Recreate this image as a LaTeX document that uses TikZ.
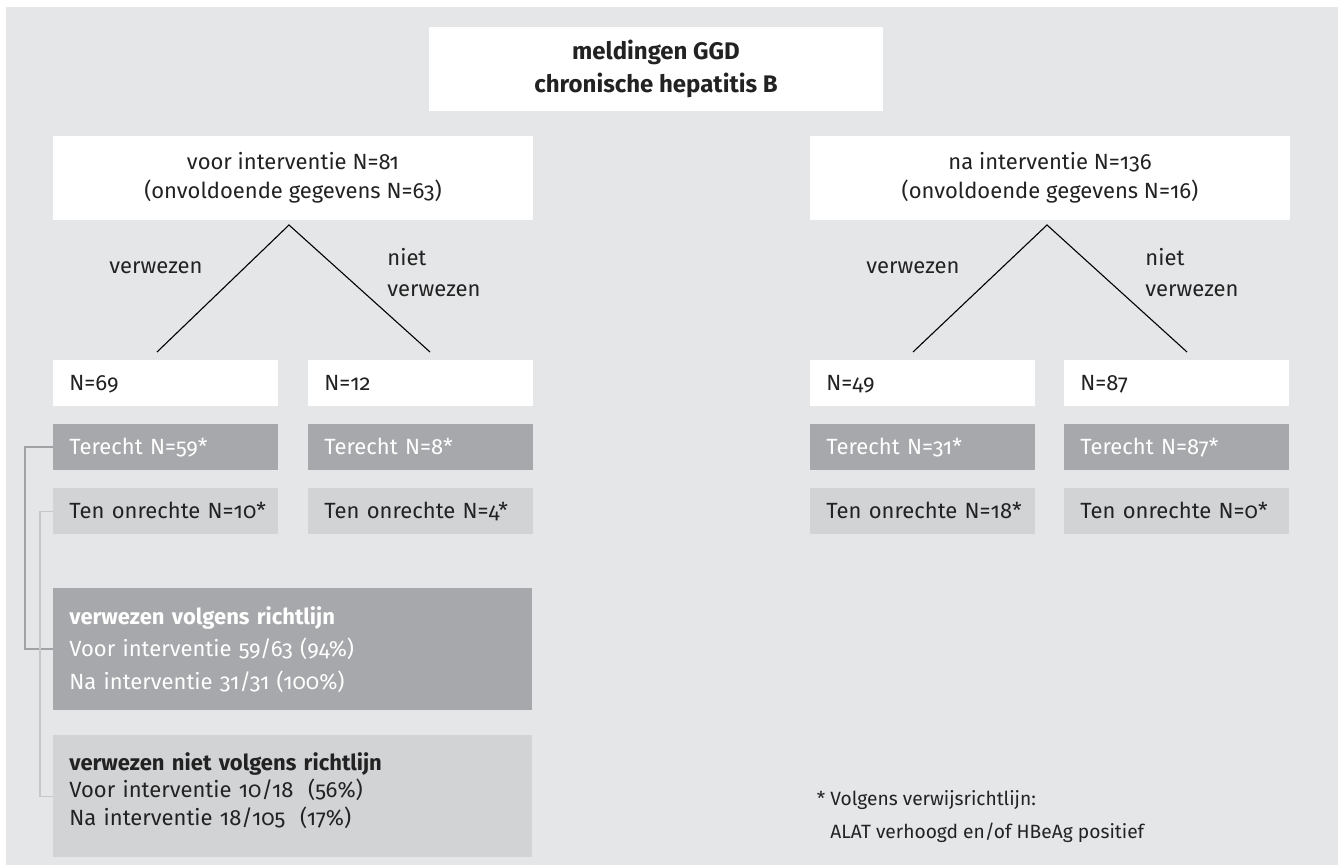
\documentclass[tikz,border=0pt]{standalone}
\usepackage{fontspec}
\setmainfont{Fira Sans}[Numbers=OldStyle]
\definecolor{bg}{HTML}{E5E6E8}
\definecolor{dgray}{HTML}{A7A8AB}
\definecolor{lgray}{HTML}{D2D3D5}
\definecolor{txt}{HTML}{222222}
\definecolor{connd}{HTML}{A2A3A6}
\definecolor{connl}{HTML}{C6C7C9}
\begin{document}
\begin{tikzpicture}[x=0.5pt,y=-0.5pt,
  cell/.style={anchor=north west, inner xsep=8pt, inner ysep=0pt,
    minimum height=23pt, text width=96.5pt, align=left,
    text height=7.5pt, text depth=0pt,
    font=\fontsize{11}{13}\selectfont},
  whitecell/.style={cell, fill=white, text=txt},
  darkcell/.style={cell, fill=dgray, text=white},
  lightcell/.style={cell, fill=lgray, text=txt},
  headbox/.style={fill=white, text=txt, minimum width=240pt, minimum height=42pt,
    inner sep=0pt, align=center, font=\fontsize{11}{14.5}\selectfont},
  bigbox/.style={anchor=north west, inner xsep=8pt, inner ysep=0pt,
    minimum height=61pt, text width=223.5pt, align=left},
  treeline/.style={draw=black, line width=0.55pt},
  lbl/.style={text=txt, inner sep=0pt, align=left, font=\fontsize{11}{15.5}\selectfont},
  connA/.style={draw=connd, line width=1pt},
  connB/.style={draw=connl, line width=0.75pt}
]
\useasboundingbox (0,0) rectangle (1338,865);
\fill[bg] (6,7) rectangle (1338,865);

% title
\node[headbox, minimum width=227pt, font=\bfseries\fontsize{12}{16.5}\selectfont] (title) at (656,69)
  {meldingen GGD\\chronische hepatitis B};

% heads
\node[headbox] (voor) at (293,178) {voor interventie N=81\\(onvoldoende gegevens N=63)};
\node[headbox] (na) at (1050,178) {na interventie N=136\\(onvoldoende gegevens N=16)};

% tree lines left
\coordinate (a1) at (289,225);
\coordinate (b1) at (157,352);
\coordinate (c1) at (430,352);
\draw[treeline] (b1) -- (a1) -- (c1);
\node[lbl] (v1) at (156,268) {verwezen};
\node[lbl, anchor=west] (nv1) at (387,272.5) {niet\\verwezen};

% tree lines right
\coordinate (a2) at (1047,225);
\coordinate (b2) at (913,352);
\coordinate (c2) at (1187,352);
\draw[treeline] (b2) -- (a2) -- (c2);
\node[lbl] (v2) at (913,268) {verwezen};
\node[lbl, anchor=west] (nv2) at (1145,272.5) {niet\\verwezen};

% cells
\node[whitecell] (n69) at (53,360) {N=69};
\node[whitecell] (n12) at (308,360) {N=12};
\node[whitecell] (n49) at (810,360) {N=49};
\node[whitecell] (n87) at (1064,360) {N=87};

\node[darkcell] (ter1) at (53,424) {\mbox{Terecht N=59*}};
\node[darkcell] (ter2) at (308,424) {\mbox{Terecht N=8*}};
\node[darkcell] (ter3) at (810,424) {\mbox{Terecht N=31*}};
\node[darkcell] (ter4) at (1064,424) {\mbox{Terecht N=87*}};

\node[lightcell] (onr1) at (53,488) {\mbox{Ten onrechte N=10*}};
\node[lightcell] (onr2) at (308,488) {\mbox{Ten onrechte N=4*}};
\node[lightcell] (onr3) at (810,488) {\mbox{Ten onrechte N=18*}};
\node[lightcell] (onr4) at (1064,488) {\mbox{Ten onrechte N=0*}};

% summary boxes
\node[bigbox, fill=dgray, text=white, font=\fontsize{11}{16.25}\selectfont] (volg) at (53,588)
  {\textbf{verwezen volgens richtlijn}\\Voor interventie 59/63 (94\%)\\Na interventie 31/31 (100\%)};
\node[bigbox, fill=lgray, text=txt, text height=8pt, text depth=34pt, font=\fontsize{11}{13.75}\selectfont] (niet) at (53,735)
  {\textbf{verwezen niet volgens richtlijn}\\Voor interventie 10/18\ \ (56\%)\\Na interventie 18/105\ \ (17\%)};

% connectors
\draw[connA] (ter1.west) -- ++(-28,0) |- (volg.west);
\draw[connB] (onr1.west) -- ++(-13,0) |- (niet.west);

% footnote
\node[lbl, anchor=west, font=\fontsize{9.6}{16.5}\selectfont] (fn) at (830,816.5)
  {\llap{*\ }Volgens verwijsrichtlijn:\\ALAT verhoogd en/of HBeAg positief};
\end{tikzpicture}
\end{document}
